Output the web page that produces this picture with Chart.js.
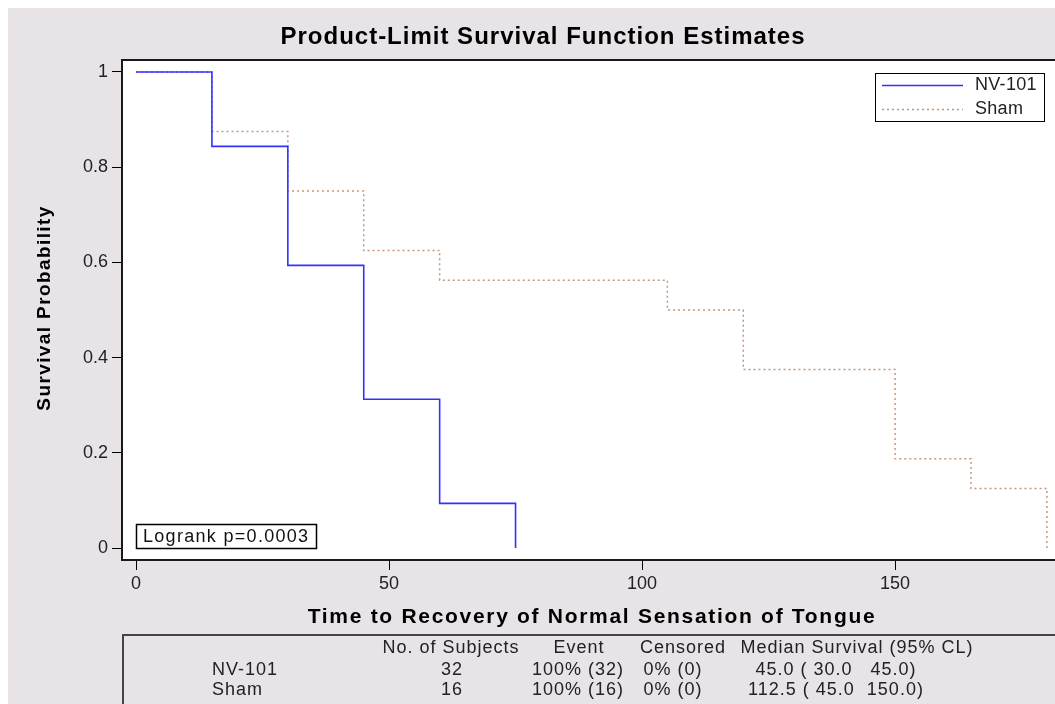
<!DOCTYPE html>
<html>
<head>
<meta charset="utf-8">
<script src="https://cdn.jsdelivr.net/npm/chart.js@4/dist/chart.umd.min.js"></script>
<style>
  html, body { margin: 0; padding: 0; background: #fff; overflow: hidden; }
  canvas { display: block; }
</style>
</head>
<body>
<canvas id="km" width="1055" height="704"></canvas>
<script>
// Kaplan-Meier step values
var nvTimes = [0, 15, 30, 45, 60, 75];
var nvSurvival = [1, 0.84375, 0.59375, 0.3125, 0.09375, 0];
var shamTimes = [0, 15, 30, 45, 60, 105, 120, 150, 165, 180];
var shamSurvival = [1, 0.875, 0.75, 0.625, 0.5625, 0.5, 0.375, 0.1875, 0.125, 0];

var xTicks = [0, 50, 100, 150];
var yTicks = [0, 0.2, 0.4, 0.6, 0.8, 1];
var groupNames = ['NV-101', 'Sham'];

var tableHeader = ['No. of Subjects', 'Event', 'Censored', 'Median Survival (95% CL)'];
var tableRows = [
  ['NV-101', '32', '100% (32)', '0% (0)', '45.0 ( 30.0   45.0)'],
  ['Sham', '16', '100% (16)', '0% (0)', '112.5 ( 45.0  150.0)']
];
var logrankText = 'Logrank p=0.0003';

var SANS = "'Liberation Sans', Arial, sans-serif";
var BG = '#e7e3e7';

function toPoints(xs, ys) {
  return xs.map(function (t, i) { return { x: t, y: ys[i] }; });
}

function spaced(ctx, px) {
  if ('letterSpacing' in ctx) ctx.letterSpacing = px + 'px';
}

var decor = {
  id: 'decor',
  beforeDraw: function (chart) {
    var ctx = chart.ctx, a = chart.chartArea;
    ctx.save();
    ctx.fillStyle = '#fff';
    ctx.fillRect(0, 0, chart.width, chart.height);
    ctx.fillStyle = BG;
    ctx.fillRect(8, 8, chart.width - 8, chart.height - 8);
    ctx.fillStyle = '#fff';
    ctx.fillRect(a.left, a.top, a.right - a.left + 10, a.bottom - a.top);
    ctx.restore();
  },
  afterDraw: function (chart) {
    var ctx = chart.ctx, a = chart.chartArea;
    var ds = chart.data.datasets;
    ctx.save();

    // plot frame
    ctx.strokeStyle = '#1a1a1a';
    ctx.lineWidth = 2;
    ctx.strokeRect(a.left, a.top, a.right - a.left + 20, a.bottom - a.top);

    // titles
    ctx.fillStyle = '#000';
    ctx.textAlign = 'center';
    ctx.textBaseline = 'middle';
    ctx.font = 'bold 24px ' + SANS;
    spaced(ctx, 1);
    ctx.fillText('Product-Limit Survival Function Estimates', 543, 37);

    ctx.font = 'bold 21px ' + SANS;
    spaced(ctx, 1.7);
    ctx.fillText('Time to Recovery of Normal Sensation of Tongue', 592, 617);

    ctx.save();
    ctx.translate(45, 308);
    ctx.rotate(-Math.PI / 2);
    ctx.font = 'bold 19px ' + SANS;
    spaced(ctx, 1.4);
    ctx.fillText('Survival Probability', 0, 0);
    ctx.restore();

    // legend box
    ctx.fillStyle = '#fff';
    ctx.fillRect(875, 73, 170, 49);
    ctx.strokeStyle = '#000';
    ctx.lineWidth = 1;
    ctx.strokeRect(875.5, 73.5, 169, 48);
    ctx.font = '18px ' + SANS;
    spaced(ctx, 0.3);
    ctx.textAlign = 'left';
    ds.forEach(function (d, i) {
      var y = 85 + i * 24;
      ctx.beginPath();
      ctx.strokeStyle = d.borderColor;
      ctx.lineWidth = d.borderWidth;
      ctx.setLineDash(d.borderDash || []);
      ctx.moveTo(882, y + 0.5);
      ctx.lineTo(963, y + 0.5);
      ctx.stroke();
      ctx.setLineDash([]);
      ctx.fillStyle = '#222';
      ctx.fillText(d.label, 975, y);
    });

    // logrank box
    ctx.fillStyle = '#fff';
    ctx.fillRect(136, 524, 180, 24);
    ctx.strokeStyle = '#000';
    ctx.lineWidth = 1.5;
    ctx.strokeRect(136.5, 524.5, 180, 24);
    ctx.fillStyle = '#111';
    ctx.font = '18px ' + SANS;
    spaced(ctx, 1.3);
    ctx.fillText(logrankText, 143, 537);

    // summary table
    ctx.strokeStyle = '#444';
    ctx.lineWidth = 2;
    ctx.strokeRect(123, 635, 960, 100);
    ctx.fillStyle = '#222';
    ctx.font = '18px ' + SANS;
    spaced(ctx, 1);
    var colX = [451, 579, 683, 857];
    ctx.textAlign = 'center';
    tableHeader.forEach(function (h, i) { ctx.fillText(h, colX[i], 648); });
    var cellX = [452, 578, 673, 836];
    tableRows.forEach(function (r, j) {
      var y = 670 + j * 20;
      ctx.textAlign = 'left';
      ctx.fillText(r[0], 212, y);
      ctx.textAlign = 'center';
      for (var k = 1; k < r.length; k++) ctx.fillText(r[k], cellX[k - 1], y);
    });
    spaced(ctx, 0);
    ctx.restore();
  }
};

new Chart(document.getElementById('km'), {
  type: 'line',
  data: {
    datasets: [
      {
        label: groupNames[0],
        data: toPoints(nvTimes, nvSurvival),
        stepped: 'before',
        borderColor: '#3232ff',
        borderWidth: 1.6,
        pointRadius: 0,
        fill: false
      },
      {
        label: groupNames[1],
        data: toPoints(shamTimes, shamSurvival),
        stepped: 'before',
        borderColor: '#c4977a',
        borderWidth: 1.5,
        borderDash: [2, 3],
        pointRadius: 0,
        fill: false
      }
    ]
  },
  options: {
    responsive: false,
    animation: false,
    events: [],
    layout: { padding: { top: 60, left: 0, right: 0, bottom: 0 } },
    plugins: {
      legend: { display: false },
      title: { display: false },
      tooltip: { enabled: false }
    },
    scales: {
      x: {
        type: 'linear',
        min: -2.77,
        max: 181.6,
        afterBuildTicks: function (s) { s.ticks = xTicks.map(function (v) { return { value: v }; }); },
        afterFit: function (s) { s.height = 144; },
        border: { display: false },
        grid: { drawOnChartArea: false, tickLength: 10, color: '#000', tickWidth: 1 },
        ticks: {
          color: '#222', padding: 3, maxRotation: 0, autoSkip: false,
          font: { family: SANS, size: 18 },
          callback: function (v) { return String(v); }
        }
      },
      y: {
        type: 'linear',
        min: -0.0252,
        max: 1.0252,
        afterBuildTicks: function (s) { s.ticks = yTicks.map(function (v) { return { value: v }; }); },
        afterFit: function (s) { s.width = 122; },
        border: { display: false },
        grid: { drawOnChartArea: false, tickLength: 10, color: '#000', tickWidth: 1 },
        ticks: {
          color: '#222', padding: 4,
          font: { family: SANS, size: 18 },
          callback: function (v) { return String(v); }
        }
      }
    }
  },
  plugins: [decor]
});
</script>
</body>
</html>
